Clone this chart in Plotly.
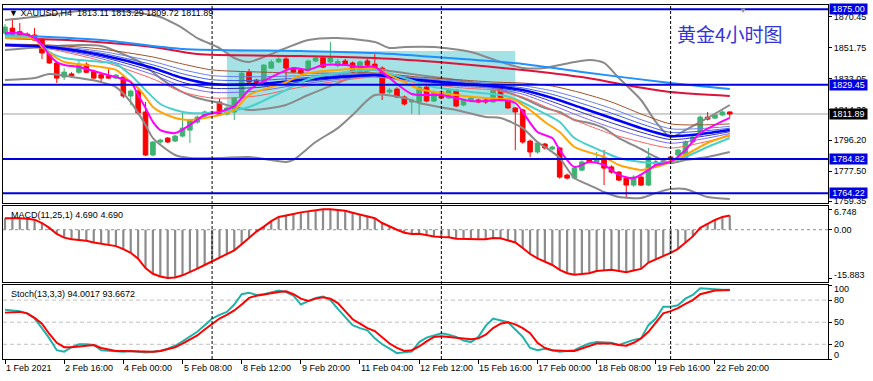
import plotly.graph_objects as go

# ---------------- data ----------------
symbol = "XAUUSD,H4"
bars = list(range(99))
opens = [1860.6, 1863.6, 1861.4, 1860.0, 1859.4, 1857.0, 1848.6, 1842.6, 1834.1, 1836.0,
         1837.0, 1841.8, 1837.5, 1835.5, 1834.7, 1833.5, 1834.1, 1822.7, 1825.7, 1813.1,
         1787.2, 1795.0, 1797.4, 1795.6, 1798.6, 1802.2, 1807.0, 1810.6, 1812.5, 1819.1,
         1811.9, 1813.1, 1821.5, 1837.1, 1832.3, 1831.1, 1839.5, 1843.2, 1845.0, 1839.5,
         1838.3, 1838.3, 1843.8, 1845.6, 1843.2, 1841.0, 1843.8, 1842.6, 1837.1, 1843.8,
         1841.9, 1839.5, 1825.1, 1826.9, 1822.1, 1819.1, 1819.1, 1828.1, 1819.7, 1825.1,
         1821.5, 1826.3, 1817.3, 1819.7, 1820.3, 1820.3, 1819.1, 1826.9, 1820.9, 1815.5,
         1814.3, 1795.6, 1789.0, 1793.8, 1790.8, 1791.4, 1775.1, 1773.3, 1778.1, 1784.2,
         1783.0, 1785.4, 1780.0, 1776.9, 1773.3, 1769.1, 1773.9, 1769.1, 1783.0, 1781.8,
         1786.0, 1787.2, 1785.4, 1795.0, 1799.2, 1810.0, 1809.4, 1811.3, 1813.11]
highs = [1866.0, 1869.6, 1866.6, 1861.0, 1863.6, 1857.5, 1849.5, 1843.2, 1839.5, 1837.0,
         1845.0, 1843.0, 1838.5, 1836.5, 1838.9, 1836.0, 1835.0, 1826.5, 1828.0, 1819.1,
         1795.6, 1797.0, 1798.0, 1799.4, 1812.5, 1809.0, 1811.0, 1814.0, 1813.8, 1820.9,
         1816.5, 1822.0, 1837.5, 1839.0, 1833.0, 1842.0, 1844.5, 1846.5, 1846.0, 1840.0,
         1839.5, 1844.5, 1847.0, 1846.5, 1855.2, 1845.0, 1845.0, 1843.5, 1844.0, 1845.0,
         1847.9, 1840.5, 1827.5, 1828.0, 1823.0, 1821.0, 1829.0, 1829.0, 1826.0, 1826.0,
         1827.5, 1827.0, 1821.0, 1822.5, 1821.0, 1821.0, 1827.0, 1828.0, 1821.5, 1816.0,
         1815.0, 1796.5, 1795.5, 1794.5, 1792.8, 1792.0, 1776.0, 1780.0, 1784.0, 1785.0,
         1789.0, 1790.2, 1781.0, 1777.5, 1774.0, 1775.0, 1775.0, 1791.4, 1784.0, 1784.5,
         1786.8, 1791.0, 1796.0, 1799.0, 1811.0, 1813.1, 1812.0, 1814.0, 1813.29]
lows = [1859.5, 1859.0, 1858.8, 1857.0, 1855.8, 1845.0, 1842.0, 1830.5, 1832.3, 1833.5,
        1836.0, 1836.4, 1832.8, 1830.5, 1833.0, 1832.8, 1821.5, 1817.3, 1811.5, 1786.5,
        1786.4, 1794.0, 1794.4, 1795.0, 1797.8, 1794.4, 1806.0, 1810.0, 1812.0, 1810.6,
        1811.0, 1808.2, 1820.5, 1830.0, 1829.5, 1830.0, 1839.0, 1842.5, 1832.3, 1836.5,
        1835.5, 1837.5, 1843.0, 1839.5, 1842.0, 1840.0, 1841.0, 1836.5, 1836.5, 1840.5,
        1839.0, 1820.3, 1824.0, 1821.5, 1817.0, 1811.9, 1811.3, 1819.0, 1819.0, 1821.0,
        1821.0, 1816.0, 1816.5, 1819.0, 1818.5, 1818.0, 1818.5, 1819.5, 1815.0, 1790.2,
        1794.0, 1786.0, 1788.0, 1790.5, 1790.0, 1773.0, 1772.5, 1772.5, 1777.5, 1782.3,
        1782.5, 1769.1, 1776.0, 1771.5, 1761.9, 1768.0, 1768.5, 1768.5, 1781.0, 1781.0,
        1783.5, 1786.5, 1784.8, 1794.0, 1798.5, 1808.0, 1808.8, 1810.5, 1809.72]
closes = [1864.2, 1860.0, 1859.4, 1857.6, 1856.4, 1848.6, 1842.6, 1833.5, 1837.1, 1834.8,
          1841.8, 1837.0, 1833.5, 1833.5, 1833.5, 1835.3, 1822.7, 1825.7, 1812.5, 1787.2,
          1795.0, 1796.2, 1795.0, 1798.6, 1803.4, 1808.2, 1810.0, 1813.1, 1813.1, 1811.3,
          1815.5, 1821.5, 1836.5, 1831.1, 1830.5, 1841.3, 1843.2, 1845.0, 1839.5, 1837.1,
          1836.5, 1843.8, 1845.6, 1840.1, 1845.6, 1843.5, 1841.9, 1837.1, 1843.2, 1841.3,
          1839.5, 1824.5, 1826.3, 1822.1, 1817.9, 1820.3, 1828.1, 1819.7, 1825.1, 1821.5,
          1826.3, 1816.7, 1820.3, 1821.5, 1819.1, 1819.1, 1826.3, 1820.3, 1815.5, 1813.1,
          1795.0, 1789.0, 1794.4, 1791.4, 1792.0, 1773.9, 1773.3, 1779.3, 1783.0, 1783.0,
          1784.8, 1779.3, 1776.9, 1772.1, 1769.1, 1773.9, 1769.1, 1786.0, 1781.8, 1783.6,
          1784.2, 1790.2, 1795.0, 1798.0, 1810.0, 1808.8, 1811.3, 1813.1, 1811.89]

tick_idx = [0, 8, 16, 24, 32, 40, 48, 56, 64, 72, 80, 88, 96]
tick_text = ["1 Feb 2021", "2 Feb 16:00", "4 Feb 00:00", "5 Feb 08:00", "8 Feb 12:00",
             "9 Feb 20:00", "11 Feb 04:00", "12 Feb 12:00", "15 Feb 16:00", "17 Feb 00:00",
             "18 Feb 08:00", "19 Feb 16:00", "22 Feb 20:00"]
week_sep = [28, 59, 90]

# moving averages
fast_idx = [0, 2, 4, 5, 6, 7, 8, 10, 13, 15, 17, 18, 19, 20, 21, 23, 25, 27, 29, 31,
            33, 36, 39, 41, 43, 46, 48, 50, 53, 55, 57, 59, 61, 63, 65, 67, 69, 70, 72, 74,
            75, 77, 79, 81, 83, 85, 87, 88, 90, 92, 94, 96, 98]
fast_ma = [1860.6, 1860.6, 1857.6, 1853.4, 1847.4, 1843.2, 1841.4, 1840.2, 1836.5, 1834.1,
           1831.1, 1823.3, 1815.5, 1807.1, 1802.2, 1800.4, 1805.3, 1811.3, 1813.1, 1816.7,
           1826.3, 1834.1, 1839.6, 1838.4, 1841.4, 1841.4, 1840.2, 1840.2, 1829.9, 1823.9,
           1823.3, 1823.3, 1821.5, 1819.7, 1819.7, 1820.3, 1818.5, 1813.1, 1801.0, 1797.4,
           1790.2, 1780.0, 1783.0, 1781.2, 1775.2, 1773.3, 1778.2, 1781.2, 1783.0, 1790.2,
           1800.4, 1805.3, 1809.5]
mid_idx = [0, 4, 5, 7, 8, 13, 15, 17, 18, 19, 20, 21, 23, 25, 29, 31, 33, 36, 38, 40,
           42, 45, 50, 52, 54, 56, 61, 65, 69, 70, 71, 73, 75, 77, 81, 83, 86, 88, 90, 92,
           95, 98]
mid_ma = [1857.6, 1857.0, 1852.2, 1845.6, 1843.2, 1840.2, 1838.4, 1831.1, 1827.5, 1822.1,
          1816.1, 1813.1, 1809.5, 1808.3, 1811.3, 1814.3, 1823.3, 1828.1, 1831.1, 1835.3,
          1837.2, 1838.4, 1839.6, 1835.3, 1831.1, 1826.9, 1823.3, 1821.5, 1820.3, 1817.3,
          1814.3, 1807.1, 1801.0, 1792.0, 1786.0, 1781.2, 1778.2, 1780.0, 1783.0, 1787.2,
          1794.4, 1799.2]
slow_idx = [0, 4, 5, 6, 8, 13, 15, 17, 19, 21, 23, 25, 29, 33, 36, 38, 40, 42, 45, 50,
            54, 58, 63, 67, 69, 72, 75, 77, 81, 83, 86, 88, 90, 92, 95, 98]
slow_ma = [1858.8, 1857.6, 1853.4, 1849.2, 1845.6, 1843.2, 1842.0, 1835.3, 1826.3, 1817.9,
           1814.3, 1812.5, 1813.1, 1816.1, 1822.1, 1826.3, 1831.1, 1834.1, 1836.5, 1838.4,
           1833.5, 1828.1, 1825.1, 1823.3, 1820.9, 1814.3, 1807.1, 1797.4, 1789.0, 1785.4,
           1783.0, 1782.4, 1783.0, 1786.0, 1792.0, 1797.4]

bb_idx = [0, 5, 10, 13, 18, 21, 23, 24, 26, 29, 31, 33, 35, 38, 41, 45, 50, 52, 54, 58,
          63, 67, 70, 73, 75, 77, 79, 81, 83, 86, 88, 90, 92, 95, 98]
bb_upper = [1868.5, 1870.9, 1873.9, 1874.5, 1872.7, 1870.3, 1866.1, 1863.6, 1857.6, 1851.6,
            1845.6, 1843.2, 1846.2, 1851.6, 1856.4, 1857.6, 1855.2, 1851.6, 1852.2, 1852.2,
            1849.2, 1843.2, 1839.6, 1839.6, 1841.4, 1843.2, 1844.4, 1842.6, 1833.5, 1820.3,
            1807.1, 1798.0, 1802.2, 1809.5, 1817.3]
bb_middle = [1850.4, 1852.2, 1853.4, 1852.8, 1843.8, 1833.5, 1827.5, 1825.1, 1821.5, 1818.5,
             1816.1, 1814.3, 1814.9, 1817.3, 1823.3, 1830.5, 1839.0, 1837.8, 1836.6, 1834.1,
             1831.1, 1826.3, 1821.5, 1815.5, 1813.1, 1808.3, 1806.5, 1803.4, 1797.4, 1790.8,
             1786.0, 1782.4, 1784.2, 1786.0, 1789.0]
bb_low_idx = [0, 4, 6, 10, 13, 15, 17, 19, 20, 23, 25, 29, 33, 38, 39, 42, 45, 47, 50, 54,
              56, 61, 65, 67, 70, 72, 74, 75, 77, 79, 81, 83, 86, 88, 90, 92, 95, 98]
bb_lower = [1832.3, 1833.5, 1835.9, 1833.5, 1831.1, 1828.1, 1819.1, 1805.3, 1797.4, 1787.2,
            1785.4, 1785.4, 1786.0, 1783.0, 1784.2, 1795.0, 1803.4, 1811.3, 1823.3, 1821.5,
            1818.5, 1814.3, 1810.1, 1809.5, 1803.4, 1795.0, 1789.0, 1785.4, 1773.3, 1769.1,
            1764.9, 1761.9, 1761.3, 1764.3, 1766.7, 1766.7, 1761.9, 1760.7]

long_blue_idx = [0, 13, 24, 40, 50, 60, 70, 78, 90, 98]
long_blue = [1859.4, 1856.4, 1851.0, 1849.8, 1848.6, 1845.6, 1842.0, 1837.2, 1830.5, 1826.9]
long_red_idx = [0, 10, 20, 26, 40, 50, 60, 70, 78, 84, 90, 98]
long_red = [1857.6, 1856.0, 1852.2, 1848.0, 1846.8, 1845.6, 1842.6, 1838.4, 1834.1, 1829.3,
            1825.1, 1822.7]

fan_idx = [0, 6, 13, 20, 24, 28, 34, 40, 45, 50, 56, 62, 66, 70, 74, 78, 82, 86, 90, 94, 98]
fan_sienna = [1854.0, 1853.4, 1851.0, 1846.2, 1842.0, 1838.4, 1837.2, 1836.5, 1836.5, 1836.6,
              1834.1, 1832.3, 1831.1, 1830.5, 1828.7, 1824.5, 1819.1, 1811.9, 1805.9, 1805.3, 1805.9]
fan_blue1 = [1853.8, 1852.9, 1849.6, 1843.5, 1838.6, 1835.0, 1834.3, 1834.9, 1835.6, 1836.1,
             1833.4, 1831.4, 1830.2, 1828.9, 1825.8, 1820.9, 1815.2, 1808.5, 1803.0, 1803.1, 1804.4]
fan_blue2 = [1853.6, 1852.6, 1848.5, 1841.5, 1836.1, 1832.5, 1832.1, 1833.6, 1834.9, 1835.7,
             1832.9, 1830.7, 1829.5, 1827.6, 1823.7, 1818.2, 1812.4, 1806.0, 1800.8, 1801.5, 1803.3]
fan_center = [1853.4, 1852.2, 1847.4, 1839.6, 1833.5, 1829.9, 1829.9, 1832.3, 1834.1, 1835.4,
              1832.3, 1829.9, 1828.7, 1826.3, 1821.5, 1815.5, 1809.5, 1803.4, 1798.6, 1799.8, 1802.2]
fan_blue3 = [1853.2, 1851.8, 1846.3, 1837.6, 1831.0, 1827.4, 1827.8, 1831.1, 1833.4, 1835.0,
             1831.8, 1829.2, 1828.0, 1825.1, 1819.3, 1812.8, 1806.6, 1800.9, 1796.5, 1798.2, 1801.2]
fan_blue4 = [1853.0, 1851.5, 1845.2, 1835.6, 1828.5, 1824.9, 1825.6, 1829.8, 1832.7, 1834.6,
             1831.3, 1828.5, 1827.3, 1823.8, 1817.2, 1810.1, 1803.7, 1798.4, 1794.3, 1796.6, 1800.1]
fan_red = [1852.8, 1851.0, 1843.8, 1833.0, 1825.1, 1821.5, 1822.7, 1828.1, 1831.7, 1834.1,
           1830.5, 1827.5, 1826.3, 1822.1, 1814.3, 1806.5, 1799.8, 1795.0, 1791.4, 1794.4, 1798.6]

macd = [3.8, 3.9, 3.8, 3.6, 3.3, 2.2, 0.6, -1.4, -2.6, -3.1,
        -3.3, -3.6, -4.2, -4.6, -5.0, -5.4, -6.4, -7.6, -9.5, -12.6,
        -14.5, -15.4, -15.883, -15.7, -15.0, -14.0, -12.8, -11.6, -10.4, -9.2,
        -8.2, -6.8, -4.8, -2.6, -0.6, 1.0, 2.8, 4.2, 4.8, 5.2,
        5.7, 6.1, 6.5, 6.7, 6.748, 6.5, 6.2, 5.6, 5.0, 4.6,
        3.8, 2.2, 1.0, 0.0, -1.0, -1.4, -1.3, -1.8, -2.2, -2.4,
        -2.5, -3.0, -3.1, -3.0, -3.1, -3.1, -2.7, -2.8, -3.4, -4.2,
        -6.0, -8.0, -9.4, -10.6, -11.6, -13.2, -14.3, -14.8, -14.6, -14.3,
        -13.6, -13.4, -13.2, -13.6, -14.0, -13.4, -12.9, -10.8, -9.8, -8.6,
        -7.6, -6.3, -4.2, -2.2, 0.6, 2.0, 3.2, 4.2, 4.69]
stoch_k = [67, 66, 65, 62, 55, 42, 28, 12, 10, 16,
           20, 20, 19, 12, 11, 10, 10, 11, 10, 9,
           10, 11, 14, 18, 24, 30, 37, 46, 55, 60,
           64, 74, 88, 90, 87, 88, 90, 93, 91, 86,
           74, 78, 83, 85, 80, 68, 57, 46, 42, 39,
           28, 20, 14, 8, 9, 10, 23, 29, 32, 35,
           33, 30, 25, 23, 30, 45, 55, 53, 50, 40,
           30, 15, 12, 14, 12, 10, 11, 12, 17, 21,
           23, 22, 22, 19, 23, 26, 28, 46, 55, 71,
           71, 73, 82, 87, 96, 95, 94, 94, 94.0017]
stoch_d = [63, 64, 64, 62, 56, 48, 34, 22, 16, 16,
           17, 19, 19, 15, 13, 11, 11, 10.5, 10, 10,
           10, 11, 13, 16, 21, 27, 32, 40, 48, 55,
           60, 66, 74, 83, 86, 88, 89, 91, 92, 88,
           82, 79, 82, 84, 82, 76, 65, 54, 48, 42,
           38, 29, 21, 15, 11, 12, 17, 24, 30, 31,
           30, 30, 28, 27, 28, 33, 42, 48, 50, 47,
           42, 35, 22, 15, 12, 11, 11, 11, 14, 18,
           21, 21, 21, 19, 18, 22, 28, 37, 50, 62,
           65, 69, 75, 80, 88, 91, 93, 93.5, 93.6672]

levels = [1875.00, 1829.45, 1784.82, 1764.22]
last_price = 1811.89
zone_bars = [30, 69]
zone_prices = [1811.9, 1849.8]
price_ticks = [1870.45, 1851.75, 1833.05, 1814.30, 1796.20, 1777.50, 1759.35]
macd_ticks = [6.748, 0.0, -15.883]
macd_tick_text = ["6.748", "0.00", "-15.883"]
stoch_ticks = [100, 80, 50, 20, 0]
stoch_levels = [80, 50, 20]

# ---------------- figure ----------------
UP_COL = "#3CB371"
DN_COL = "#FF0000"
fig = go.Figure()

up = [i for i in bars if closes[i] >= opens[i]]
dn = [i for i in bars if closes[i] < opens[i]]


def wick_xy(ids):
    xs, ys = [], []
    for i in ids:
        xs += [i, i, None]
        ys += [lows[i], highs[i], None]
    return xs, ys


for ids, col in ((up, UP_COL), (dn, DN_COL)):
    wx, wy = wick_xy(ids)
    fig.add_trace(go.Scatter(x=wx, y=wy, mode="lines", line=dict(color=col, width=1),
                             hoverinfo="skip", xaxis="x", yaxis="y"))
for ids, col in ((up, UP_COL), (dn, DN_COL)):
    fig.add_trace(go.Bar(x=ids,
                         y=[abs(closes[i] - opens[i]) for i in ids],
                         base=[min(opens[i], closes[i]) for i in ids],
                         width=0.62,
                         marker=dict(color=col, line=dict(color=col, width=1)),
                         hoverinfo="skip", xaxis="x", yaxis="y"))


def line(xs, ys, color, width, smooth=0.7):
    fig.add_trace(go.Scatter(x=xs, y=ys, mode="lines",
                             line=dict(color=color, width=width, shape="spline", smoothing=smooth),
                             hoverinfo="skip", xaxis="x", yaxis="y"))


GREY = "#8A8A8A"
line(bb_idx, bb_upper, GREY, 2)
line(bb_idx, bb_middle, GREY, 2)
line(bb_low_idx, bb_lower, GREY, 2)
line(fan_idx, fan_red, "#FF6060", 1)
line(fan_idx, fan_blue4, "#7B68EE", 1)
line(fan_idx, fan_blue3, "#3030B0", 1)
line(fan_idx, fan_blue2, "#4060E0", 1)
line(fan_idx, fan_blue1, "#6A7FE8", 1)
line(fan_idx, fan_sienna, "#A0522D", 1)
line(fan_idx, fan_center, "#0000FF", 2.5)
line(long_red_idx, long_red, "#DC143C", 2)
line(long_blue_idx, long_blue, "#1E90FF", 2)
line(slow_idx, slow_ma, "#48D1CC", 2)
line(mid_idx, mid_ma, "#FFA500", 2)
line(fast_idx, fast_ma, "#FF00FF", 2)

# MACD
fig.add_trace(go.Bar(x=bars, y=macd, width=0.3, marker=dict(color="#8C8C8C", line=dict(width=0)),
                     hoverinfo="skip", xaxis="x2", yaxis="y2"))
fig.add_trace(go.Scatter(x=bars, y=macd, mode="lines", line=dict(color="#FF0000", width=2),
                         hoverinfo="skip", xaxis="x2", yaxis="y2"))
# Stochastic
fig.add_trace(go.Scatter(x=bars, y=stoch_k, mode="lines", line=dict(color="#20B2AA", width=2),
                         hoverinfo="skip", xaxis="x3", yaxis="y3"))
fig.add_trace(go.Scatter(x=bars, y=stoch_d, mode="lines", line=dict(color="#FF0000", width=2),
                         hoverinfo="skip", xaxis="x3", yaxis="y3"))

# shapes
fig.add_shape(type="rect", xref="x", yref="y", x0=zone_bars[0], x1=zone_bars[1],
              y0=zone_prices[0], y1=zone_prices[1], fillcolor="#A4E2E6",
              line=dict(width=0), layer="below")
fig.add_shape(type="line", xref="paper", yref="y", x0=0, x1=1, y0=last_price, y1=last_price,
              line=dict(color="#A0A0A0", width=1), layer="below")
for lv in levels:
    fig.add_shape(type="line", xref="paper", yref="y", x0=0, x1=1, y0=lv, y1=lv,
                  line=dict(color="#0000E0", width=2), layer="above")
for s in week_sep:
    fig.add_shape(type="line", xref="x", yref="paper", x0=s, x1=s, y0=0, y1=1,
                  line=dict(color="black", width=1, dash="3px,2px"), layer="above")
fig.add_shape(type="line", xref="paper", yref="y2", x0=0, x1=1, y0=0, y1=0,
              line=dict(color="#909090", width=1, dash="3px,3px"), layer="below")
for lv in stoch_levels:
    fig.add_shape(type="line", xref="paper", yref="y3", x0=0, x1=1, y0=lv, y1=lv,
                  line=dict(color="#C0C0C0", width=1, dash="4px,3px"), layer="below")

# annotations
ann = []
for lv in levels:
    ann.append(dict(xref="paper", yref="y", x=1, y=lv, xanchor="left", xshift=1,
                    text=f"{lv:.2f}", showarrow=False, bgcolor="#0000E0",
                    font=dict(color="white", size=9), borderpad=0, width=37, height=10))
ann.append(dict(xref="paper", yref="y", x=1, y=last_price, xanchor="left", xshift=1,
                text=f"{last_price:.2f}", showarrow=False, bgcolor="black",
                font=dict(color="white", size=9), borderpad=0, width=37, height=10))
# indicator-window scale labels (MetaTrader keeps the extreme labels inside the window)
for v, t, sh in zip(macd_ticks, macd_tick_text, (-3, 0, 3)):
    ann.append(dict(xref="paper", yref="y2", x=1, y=v, xanchor="left", xshift=4, yshift=sh,
                    text=t, showarrow=False, font=dict(size=9, color="black")))
for v in stoch_ticks:
    sh = -4 if v == 100 else (4 if v == 0 else 0)
    ann.append(dict(xref="paper", yref="y3", x=1, y=v, xanchor="left", xshift=4, yshift=sh,
                    text=str(v), showarrow=False, font=dict(size=9, color="black")))
for ti, tt in zip(tick_idx, tick_text):
    ann.append(dict(xref="x3", yref="paper", x=ti, y=0, xanchor="left", yanchor="top",
                    yshift=-2, xshift=-1, text=tt, showarrow=False,
                    font=dict(size=9, color="black")))
ann.append(dict(xref="paper", yref="paper", x=0, y=1, xanchor="left", yanchor="top",
                xshift=4, yshift=-1, showarrow=False,
                text=f"▼ {symbol}  {opens[-1]:.2f} {highs[-1]:.2f} {lows[-1]:.2f} {closes[-1]:.2f}",
                font=dict(size=9, color="black")))
ann.append(dict(xref="paper", yref="y2 domain", x=0, y=1, xanchor="left", yanchor="top",
                xshift=6, yshift=-2, showarrow=False,
                text=f"MACD(11,25,1) {macd[-1]:.3f} {macd[-1]:.3f}",
                font=dict(size=9, color="black")))
ann.append(dict(xref="paper", yref="y3 domain", x=0, y=1, xanchor="left", yanchor="top",
                xshift=6, yshift=-2, showarrow=False,
                text=f"Stoch(13,3,3) {stoch_k[-1]:.4f} {stoch_d[-1]:.4f}",
                font=dict(size=9, color="black")))
ann.append(dict(xref="x", yref="y", x=90.6, y=1860.6, xanchor="left", yanchor="middle",
                showarrow=False, text="黄金4小时图",
                font=dict(size=19, color="#3434D8", family="Noto Sans CJK SC")))
ann.append(dict(xref="paper", yref="paper", x=0.897, y=1, xanchor="center", yanchor="top",
                yshift=1, showarrow=False, text="▼", font=dict(size=8, color="#909090")))

axc = dict(showgrid=False, zeroline=False, showline=True, linecolor="black",
           linewidth=1, mirror=True, automargin=False)
fig.update_layout(
    width=873, height=381, margin=dict(l=3, r=45, t=5, b=22, autoexpand=False),
    paper_bgcolor="white", plot_bgcolor="white", showlegend=False, barmode="overlay",
    font=dict(family="Liberation Sans, Arial, sans-serif", size=9, color="black"),
    xaxis=dict(domain=[0, 1], anchor="y", range=[-0.27, 111.28], showticklabels=False,
               ticks="", **axc),
    xaxis2=dict(domain=[0, 1], anchor="y2", matches="x", showticklabels=False, ticks="", **axc),
    xaxis3=dict(domain=[0, 1], anchor="y3", matches="x", showticklabels=False,
                ticks="outside", tickvals=tick_idx, ticklen=4, tickcolor="black", **axc),
    yaxis=dict(domain=[0.4407, 1], anchor="x", range=[1758.3, 1877.5], side="right",
               tickvals=price_ticks, ticktext=[f"{v:.2f}" for v in price_ticks],
               ticks="outside", ticklen=3, tickcolor="black", **axc),
    yaxis2=dict(domain=[0.2175, 0.4322], anchor="x2", range=[-17.2, 7.8], side="right",
                tickvals=macd_ticks, showticklabels=False,
                ticks="outside", ticklen=3, tickcolor="black", **axc),
    yaxis3=dict(domain=[0, 0.209], anchor="x3", range=[0, 100.5], side="right",
                tickvals=stoch_ticks, showticklabels=False,
                ticks="outside", ticklen=3, tickcolor="black", **axc),
    annotations=ann,
)

fig.write_html("out.html",
               config={"displayModeBar": False},
               post_script="document.body.style.margin='0';document.body.style.overflow='hidden';")
